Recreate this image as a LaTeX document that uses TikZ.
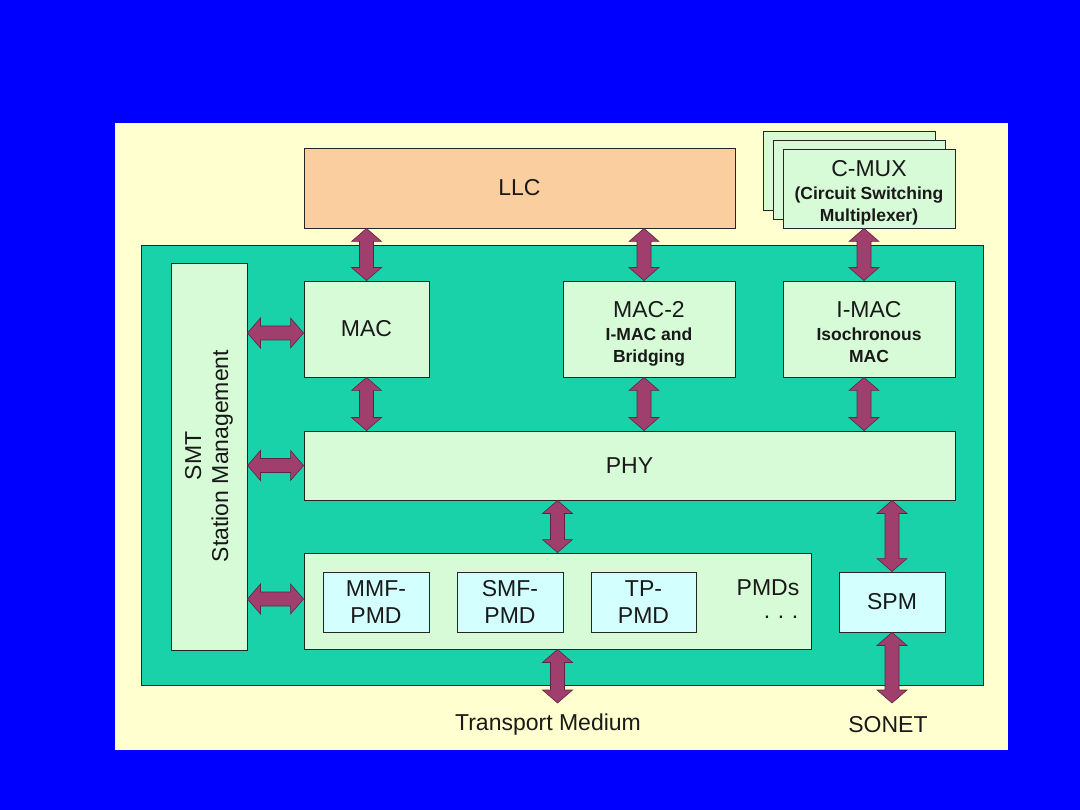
\documentclass[tikz,border=0pt]{standalone}
\usepackage{fontspec}
\setmainfont{Liberation Sans}
\usetikzlibrary{calc}
\definecolor{bgblue}{RGB}{0,0,255}
\definecolor{creampanel}{RGB}{255,255,208}
\definecolor{stationgreen}{RGB}{26,210,170}
\definecolor{boxgreen}{RGB}{214,251,214}
\definecolor{boxcyan}{RGB}{212,255,255}
\definecolor{peach}{RGB}{251,206,160}
\definecolor{arrowfill}{RGB}{160,62,110}
\definecolor{arrowline}{RGB}{95,38,66}
\newcommand\bigf{\fontsize{23}{27}\selectfont}
\newcommand\smallb{\fontsize{17.5}{21}\selectfont\bfseries}
\tikzset{
  box/.style={draw=black!85, line width=0.9pt, inner sep=0pt, align=center, text=black!90, font=\bigf},
  gbox/.style={box, fill=boxgreen},
  cbox/.style={box, fill=boxcyan},
  lbl/.style={inner sep=0pt, text=black!90, font=\bigf, align=center},
  fatarrow/.style={fill=arrowfill, draw=arrowline, line width=0.6pt, line join=miter}
}
\newcommand\varrow[2]{\path[fatarrow] let \p1=(#1), \p2=(#2) in
  (\x1,\y1) -- (\x1+15pt,\y1-13pt) -- (\x1+7pt,\y1-13pt) -- (\x1+7pt,\y2+13pt) -- (\x1+15pt,\y2+13pt) --
  (\x1,\y2) -- (\x1-15pt,\y2+13pt) -- (\x1-7pt,\y2+13pt) -- (\x1-7pt,\y1-13pt) -- (\x1-15pt,\y1-13pt) -- cycle;}
\newcommand\harrow[2]{\path[fatarrow] let \p1=(#1), \p2=(#2) in
  (\x1,\y1) -- (\x1+13pt,\y1+15pt) -- (\x1+13pt,\y1+7pt) -- (\x2-13pt,\y1+7pt) -- (\x2-13pt,\y1+15pt) --
  (\x2,\y1) -- (\x2-13pt,\y1-15pt) -- (\x2-13pt,\y1-7pt) -- (\x1+13pt,\y1-7pt) -- (\x1+13pt,\y1-15pt) -- cycle;}
\begin{document}
\begin{tikzpicture}[x=1pt,y=-1pt]
\useasboundingbox[fill=bgblue] (0,0) rectangle (1080,810);
\fill[creampanel] (115,123) rectangle (1008,750);
\node[draw=black!85, line width=0.9pt, fill=stationgreen, minimum width=842pt, minimum height=440pt, inner sep=0pt] (station) at (562,465) {};

% upper layer
\node[box, fill=peach, minimum width=431pt, minimum height=80pt] (llc) at (519.5,188) {LLC};
\node[gbox, minimum width=172pt, minimum height=79pt] (cmuxc) at (849,170.5) {};
\node[gbox, minimum width=172pt, minimum height=79pt] (cmuxb) at (859,179.5) {};
\node[gbox, minimum width=172pt, minimum height=79pt] (cmux) at (869,188.5) {};
\node[lbl] (cmuxtext) at (869,193)
  {C-MUX\\[-4pt]{\smallb (Circuit Switching}\\[-5pt]{\smallb Multiplexer)}};

% station management
\node[gbox, minimum width=76pt, minimum height=387pt] (smt) at (209,456.5) {};
\node[lbl, rotate=90] (smttext) at (209,456) {SMT\\[0pt]Station Management};

% MAC layer
\node[gbox, minimum width=125pt, minimum height=96pt] (mac) at (366.5,329) {MAC};
\node[gbox, minimum width=172pt, minimum height=96pt] (mac2) at (649,329) {};
\node[lbl] (mac2text) at (649,333.5)
  {MAC-2\\[-4pt]{\smallb I-MAC and}\\[-5pt]{\smallb Bridging}};
\node[gbox, minimum width=172pt, minimum height=96pt] (imac) at (869,329) {};
\node[lbl] (imactext) at (869,332.5)
  {I-MAC\\[-4pt]{\smallb Isochronous}\\[-5pt]{\smallb MAC}};

% PHY
\node[gbox, minimum width=651pt, minimum height=69pt] (phy) at (629.5,465.5) {PHY};

% PMDs
\node[gbox, minimum width=507pt, minimum height=96pt] (pmd) at (557.5,601) {};
\node[cbox, minimum width=106pt, minimum height=60pt] (mmf) at (376,602) {MMF-\\PMD};
\node[cbox, minimum width=106pt, minimum height=60pt] (smf) at (510,602) {SMF-\\PMD};
\node[cbox, minimum width=105pt, minimum height=60pt] (tp) at (643.5,602) {TP-\\PMD};
\node[lbl] (pmds) at (768,588) {PMDs};
\node[lbl] (dots) at (781,617) {.\,\,.\,\,.};
\node[cbox, minimum width=106pt, minimum height=60pt] (spm) at (892,602) {SPM};

% outside labels
\node[lbl] (tmlabel) at (548,725) {Transport Medium};
\node[lbl] (sonet) at (888,725) {SONET};
\coordinate (tmend) at (557.5,703);
\coordinate (sonetend) at (892,703);

% arrow reference points
\coordinate (mac2a) at ($(mac2.north)+(-5,0)$);
\coordinate (imaca) at ($(imac.north)+(-5,0)$);
\coordinate (maca) at ($(mac.west)+(0,4)$);
\coordinate (pmda) at ($(pmd.west)+(0,-2)$);

% arrows
\varrow{llc.south -| mac.north}{mac.north}
\varrow{llc.south -| mac2a}{mac2a}
\varrow{cmux.south -| imaca}{imaca}
\varrow{mac.south}{phy.north -| mac.south}
\varrow{mac2.south -| mac2a}{phy.north -| mac2a}
\varrow{imac.south -| imaca}{phy.north -| imaca}
\varrow{phy.south -| pmd.north}{pmd.north}
\varrow{phy.south -| spm.north}{spm.north}
\varrow{pmd.south}{tmend}
\varrow{spm.south}{sonetend}
\harrow{smt.east |- maca}{maca}
\harrow{smt.east |- phy.west}{phy.west}
\harrow{smt.east |- pmda}{pmda}
\end{tikzpicture}
\end{document}
